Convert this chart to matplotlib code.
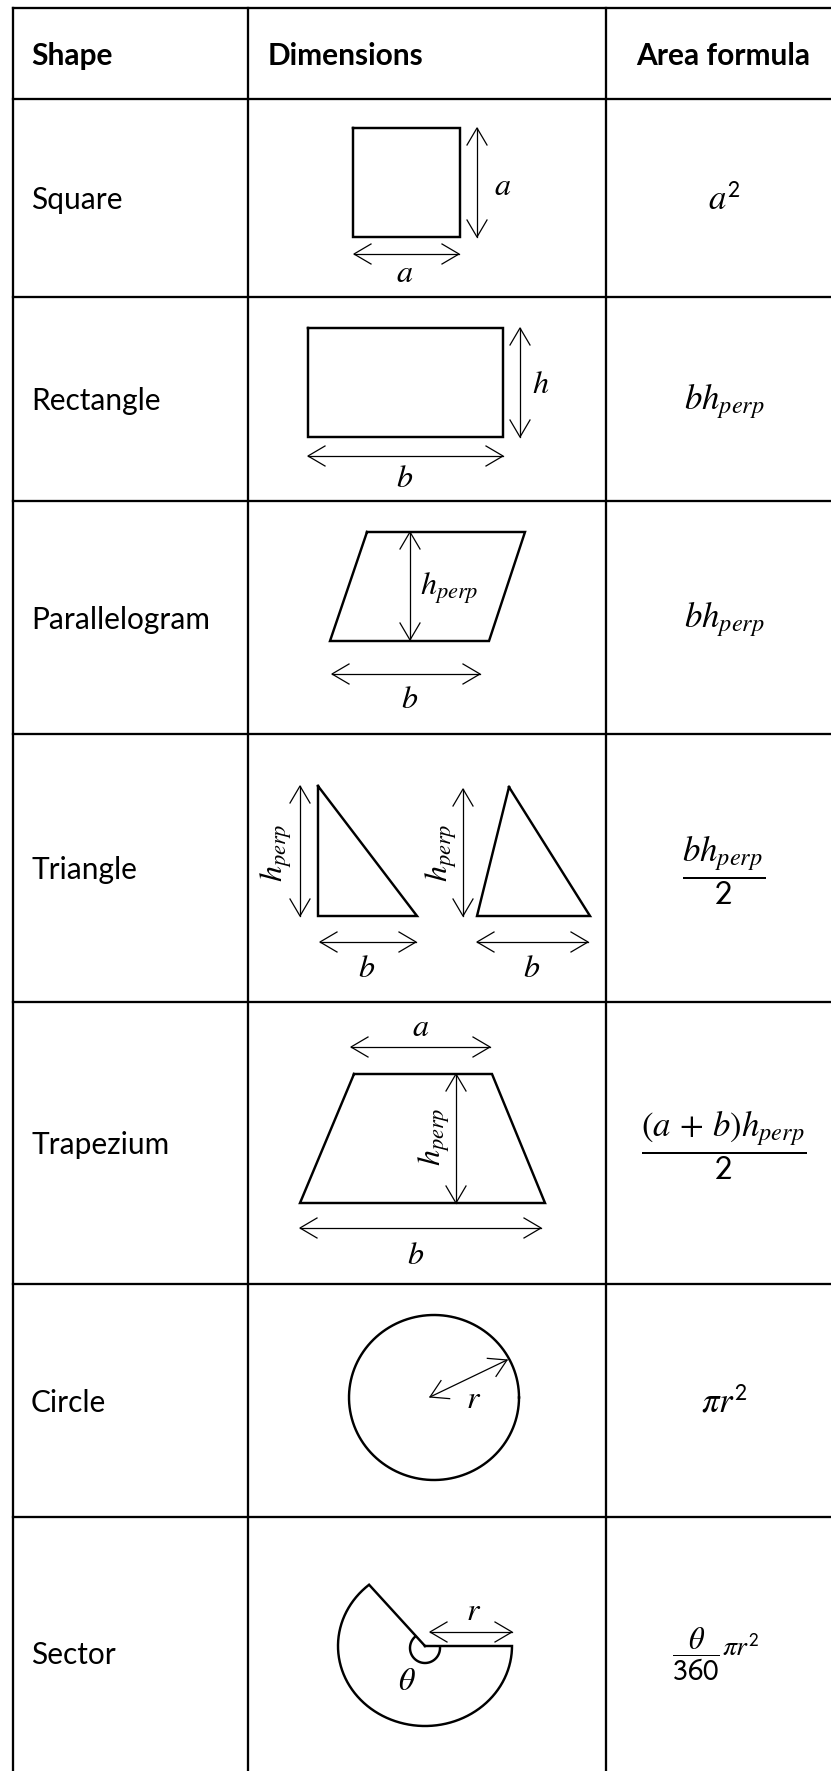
import numpy as np
import matplotlib
matplotlib.use("Agg")
import matplotlib.pyplot as plt

plt.rcParams['mathtext.fontset'] = 'stix'

# ---- data ----
headers = ["Shape", "Dimensions", "Area formula"]
shapes = ["Square", "Rectangle", "Parallelogram", "Triangle", "Trapezium", "Circle", "Sector"]
formulas = [r"$a^{\mathsf{2}}$", r"$bh_{perp}$", r"$bh_{perp}$", r"$\dfrac{bh_{perp}}{\mathsf{2}}$",
            r"$\dfrac{(a\,+\,b)h_{perp}}{\mathsf{2}}$", r"$\pi r^{\mathsf{2}}$", None]
sector_frac = r"$\dfrac{\theta}{\mathsf{360}}$"
sector_tail = r"$\pi r^{\mathsf{2}}$"

# ---- layout (pixel space) ----
W, H = 831, 1771
row_lines = [8, 99, 297, 501, 734, 1002, 1284, 1517, 1788]
col_lines = [13, 248, 606, 842]

fig = plt.figure(figsize=(W / 100, H / 100), dpi=100)
ax = fig.add_axes([0, 0, 1, 1])
ax.set_xlim(0, W)
ax.set_ylim(H, 0)
ax.axis('off')

TL = 1.65   # table line
SL = 1.75   # shape line
AL = 0.9    # arrow line
TXT = 21.5
MATH = 23
FMATH = 25

for y in row_lines:
    ax.plot([col_lines[0], col_lines[-1]], [y, y], color='black', lw=TL,
            solid_capstyle='projecting')
for x in col_lines:
    ax.plot([x, x], [row_lines[0], row_lines[-1]], color='black', lw=TL,
            solid_capstyle='projecting')

def row_center(i):
    return (row_lines[i] + row_lines[i + 1]) / 2

col3c = (col_lines[2] + col_lines[3]) / 2

# headers
hy = row_center(0) + 2
ax.text(31, hy, headers[0], fontsize=TXT, fontweight='bold',
        family='Lato', va='center', ha='left')
ax.text(268, hy, headers[1], fontsize=TXT, fontweight='bold',
        family='Lato', va='center', ha='left')
ax.text(col3c - 1, hy, headers[2], fontsize=TXT, fontweight='bold',
        family='Lato', va='center', ha='center')

# row labels & formulas
for i, name in enumerate(shapes):
    yc = row_center(i + 1)
    ax.text(31, yc + 2, name, fontsize=TXT, family='Lato', va='center', ha='left')
    f = formulas[i]
    if f is not None:
        ax.text(col3c, yc + 2, f, fontsize=FMATH, va='center', ha='center')

# sector formula
ax.text(696, 1654, sector_frac, fontsize=FMATH - 3, va='center', ha='center')
ax.text(722, 1648, sector_tail, fontsize=FMATH - 5, va='center', ha='left')


def poly(pts, closed=True):
    pts = list(pts)
    if closed:
        pts = pts + [pts[0]]
    xs, ys = zip(*pts)
    ax.plot(xs, ys, color='black', lw=SL, solid_joinstyle='miter')


def dim_arrow(p1, p2, both=True, hl=17, hw=10):
    p1 = np.array(p1, float)
    p2 = np.array(p2, float)
    ax.plot([p1[0], p2[0]], [p1[1], p2[1]], color='black', lw=AL)
    ends = [(p1, p2), (p2, p1)] if both else [(p2, p1)]
    for tip, other in ends:
        u = (other - tip) / np.linalg.norm(other - tip)
        n = np.array([-u[1], u[0]])
        a = tip + u * hl + n * hw
        b = tip + u * hl - n * hw
        ax.plot([a[0], tip[0], b[0]], [a[1], tip[1], b[1]], color='black', lw=AL)


def label(x, y, s, rot=0, size=MATH):
    ax.text(x, y, s, fontsize=size, ha='center', va='center', rotation=rot)

# Square
poly([(353, 128), (460, 128), (460, 237), (353, 237)])
dim_arrow((477, 128), (477, 237))
label(503, 186, r"$a$")
dim_arrow((354, 254), (459, 254))
label(405, 273, r"$a$")

# Rectangle
poly([(308, 328), (503, 328), (503, 437), (308, 437)])
dim_arrow((520, 328), (520, 437))
label(541, 384, r"$h$")
dim_arrow((308, 456), (503, 456))
label(405, 478, r"$b$")

# Parallelogram
poly([(367, 532), (525, 532), (489, 641), (330, 641)])
dim_arrow((410, 532), (410, 640))
label(449, 588, r"$h_{perp}$")
dim_arrow((332, 674), (480, 674))
label(410, 700, r"$b$")

# Triangle (right angled)
poly([(318, 786), (318, 916), (417, 916)])
dim_arrow((300, 786), (300, 916))
label(276, 853, r"$h_{perp}$", rot=90)
dim_arrow((320, 942), (416, 942))
label(367, 968, r"$b$")

# Triangle (scalene)
poly([(509, 787), (477, 916), (590, 916)])
dim_arrow((463, 789), (463, 916))
label(441, 853, r"$h_{perp}$", rot=90)
dim_arrow((477, 942), (588, 942))
label(532, 968, r"$b$")

# Trapezium
poly([(354, 1074), (492, 1074), (545, 1203), (300, 1203)])
dim_arrow((351, 1047), (490, 1047))
label(421, 1027, r"$a$")
dim_arrow((456, 1074), (456, 1203))
label(434, 1137, r"$h_{perp}$", rot=90)
dim_arrow((300, 1228), (541, 1228))
label(416, 1256, r"$b$")

# Circle
t = np.linspace(0, 2 * np.pi, 400)
ccx, ccy, crx, cry = 434, 1397.5, 85, 82.5
ax.plot(ccx + crx * np.cos(t), ccy - cry * np.sin(t), color='black', lw=SL)
dim_arrow((430, 1397), (507, 1360))
label(474, 1400, r"$r$")

# Sector
scx, scy, srx, sry = 425, 1646, 87, 80
a0 = np.deg2rad(130)
ts = np.linspace(a0, 2 * np.pi, 300)
arc_pts = [(scx + srx * np.cos(v), scy - sry * np.sin(v)) for v in ts]
pts = [(scx, scy)] + arc_pts
poly(pts, closed=True)
ts2 = np.linspace(a0, 2 * np.pi, 100)
ax.plot(scx + 15 * np.cos(ts2), scy + 2 - 15 * np.sin(ts2), color='black', lw=SL)
label(407, 1682, r"$\theta$")
dim_arrow((430, 1632), (512, 1632))
label(474, 1612, r"$r$")

fig.savefig("out.png", dpi=100)
